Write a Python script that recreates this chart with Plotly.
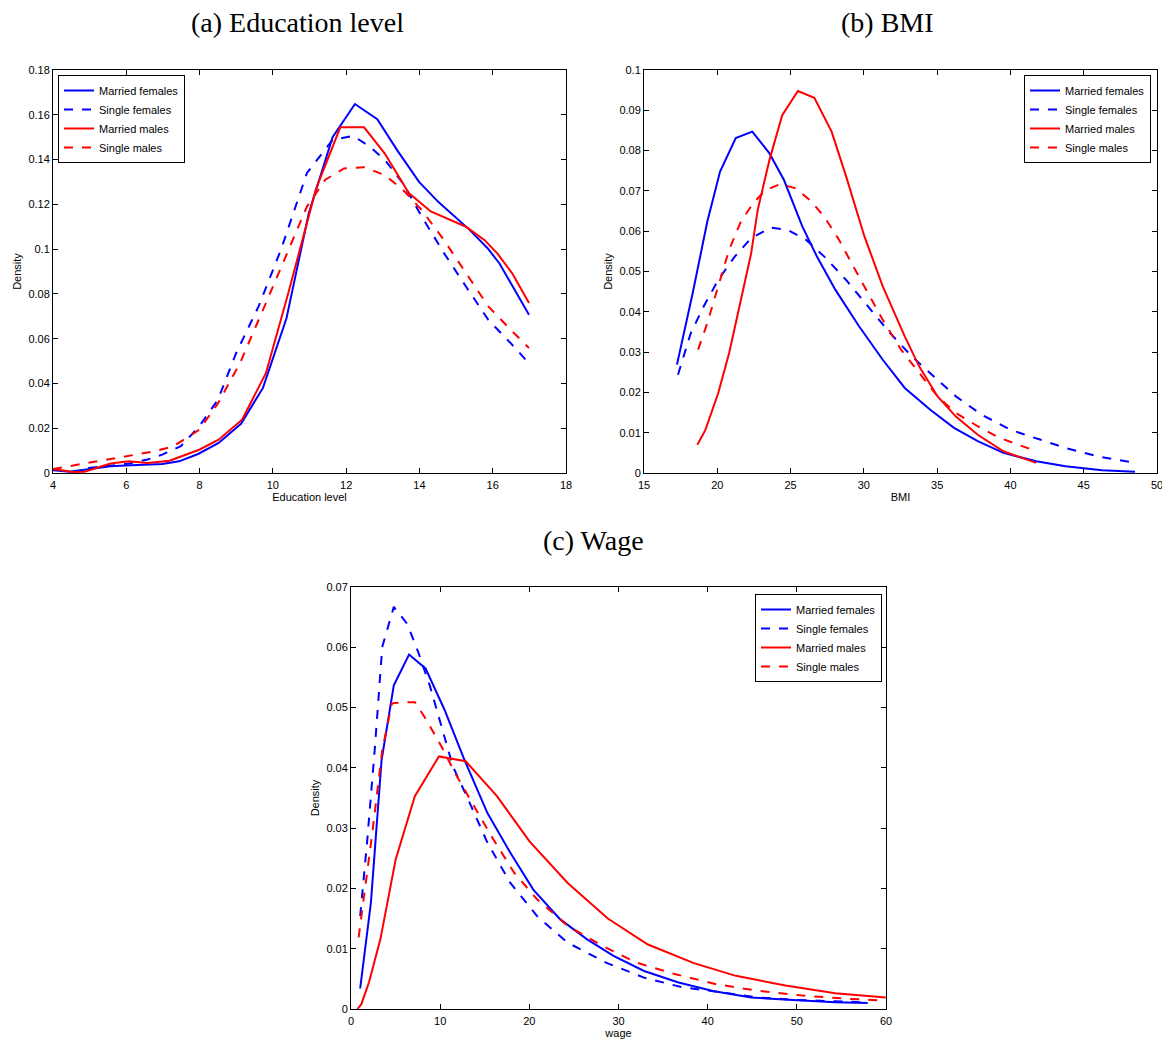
import plotly.graph_objects as go

# ---------------- data: (a) Education level ----------------
edu_mf_x = [4.0, 4.45, 5.01, 5.57, 5.97, 6.98, 7.44, 7.96, 8.52, 9.13, 9.73, 10.37, 10.98, 11.63, 12.24, 12.85, 13.4, 13.99, 14.52, 15.37, 15.86, 16.18, 16.99]
edu_mf_y = [0.0012, 0.0006, 0.0018, 0.003, 0.0034, 0.004, 0.0052, 0.0085, 0.0134, 0.022, 0.038, 0.069, 0.116, 0.150, 0.1648, 0.158, 0.144, 0.130, 0.121, 0.1086, 0.1004, 0.0937, 0.0707]
edu_sf_x = [4.96, 5.57, 6.07, 6.58, 6.98, 7.49, 7.99, 8.5, 9.0, 9.61, 10.22, 10.93, 11.63, 12.19, 12.64, 13.05, 13.55, 14.06, 14.67, 15.27, 15.88, 16.49, 16.99]
edu_sf_y = [0.0022, 0.0033, 0.0042, 0.006, 0.0082, 0.012, 0.0208, 0.0327, 0.0536, 0.0744, 0.0997, 0.134, 0.1488, 0.1506, 0.1458, 0.140, 0.1294, 0.1146, 0.0982, 0.0833, 0.0684, 0.058, 0.049]
edu_mm_x = [4.0, 4.55, 4.86, 5.57, 6.07, 6.58, 7.18, 7.99, 8.52, 9.16, 9.81, 10.42, 11.18, 11.84, 12.49, 13.05, 13.71, 14.31, 15.27, 15.78, 16.13, 16.54, 16.99]
edu_mm_y = [0.0018, 0.0005, 0.0006, 0.0042, 0.0052, 0.0045, 0.0055, 0.0104, 0.0149, 0.0238, 0.0446, 0.0803, 0.127, 0.1544, 0.1544, 0.1428, 0.125, 0.1168, 0.110, 0.104, 0.098, 0.089, 0.0759]
edu_sm_x = [4.0, 4.96, 5.57, 6.07, 6.78, 7.29, 7.99, 8.5, 9.1, 9.81, 10.42, 10.93, 11.43, 11.94, 12.49, 13.05, 13.55, 14.06, 14.67, 15.27, 15.88, 16.49, 16.99]
edu_sm_y = [0.0018, 0.0045, 0.006, 0.0074, 0.0097, 0.012, 0.0193, 0.031, 0.049, 0.0759, 0.0997, 0.119, 0.131, 0.136, 0.1366, 0.1331, 0.1265, 0.1175, 0.104, 0.0893, 0.0744, 0.064, 0.0558]

# ---------------- data: (b) BMI ----------------
bmi_mf_x = [17.25, 18.32, 19.32, 20.19, 21.26, 22.39, 23.56, 24.55, 25.8, 26.8, 28.05, 29.67, 31.29, 32.79, 34.53, 36.15, 37.77, 39.52, 41.76, 43.76, 46.25, 48.5]
bmi_mf_y = [0.0269, 0.0446, 0.0624, 0.0748, 0.0831, 0.0847, 0.0793, 0.0727, 0.0612, 0.0537, 0.0455, 0.0364, 0.0281, 0.0211, 0.0157, 0.0112, 0.0079, 0.005, 0.0029, 0.0017, 0.0007, 0.0003]
bmi_sf_x = [17.32, 18.19, 19.07, 20.06, 21.19, 22.31, 23.68, 24.8, 26.05, 27.3, 28.79, 30.29, 31.79, 33.28, 34.78, 36.28, 38.02, 40.02, 42.01, 43.76, 46.0, 48.5]
bmi_sf_y = [0.0244, 0.0347, 0.0413, 0.0479, 0.0537, 0.0583, 0.0609, 0.0603, 0.0579, 0.0537, 0.0479, 0.0413, 0.0347, 0.0289, 0.024, 0.019, 0.0145, 0.0107, 0.0083, 0.0062, 0.0041, 0.0025]
bmi_mm_x = [18.64, 19.19, 20.06, 20.81, 21.56, 22.31, 22.76, 23.56, 24.43, 25.5, 26.62, 27.8, 28.79, 30.04, 31.29, 32.79, 33.78, 35.03, 36.28, 37.77, 39.52, 41.76]
bmi_mm_y = [0.007, 0.0107, 0.0198, 0.0298, 0.0421, 0.0545, 0.0653, 0.0777, 0.0888, 0.0948, 0.0931, 0.0847, 0.0736, 0.0587, 0.0463, 0.0339, 0.0264, 0.019, 0.014, 0.0095, 0.0054, 0.0025]
bmi_sm_x = [18.69, 19.32, 20.06, 20.81, 21.56, 22.43, 23.31, 24.3, 25.3, 26.3, 27.3, 28.3, 29.29, 30.29, 31.29, 32.54, 33.78, 35.03, 36.28, 37.77, 39.27, 40.77, 41.76]
bmi_sm_y = [0.0306, 0.0372, 0.0463, 0.0554, 0.062, 0.0669, 0.0702, 0.0717, 0.0707, 0.0678, 0.0636, 0.0579, 0.0512, 0.0446, 0.038, 0.0306, 0.0248, 0.019, 0.0149, 0.0116, 0.0087, 0.0066, 0.0054]

# ---------------- data: (c) Wage ----------------
wage_mf_x = [1.03, 2.23, 3.43, 4.8, 6.51, 8.36, 10.5, 12.73, 15.3, 17.87, 20.44, 23.44, 26.44, 29.44, 32.87, 36.73, 40.59, 44.87, 49.59, 54.3, 57.95]
wage_mf_y = [0.0034, 0.0176, 0.0413, 0.0537, 0.0588, 0.0565, 0.0496, 0.0413, 0.0325, 0.0259, 0.0198, 0.0149, 0.0116, 0.0088, 0.0063, 0.0044, 0.003, 0.0019, 0.0015, 0.0011, 0.001]
wage_sf_x = [1.03, 1.8, 2.66, 3.51, 4.8, 6.3, 7.59, 8.87, 10.16, 11.44, 13.16, 15.3, 17.87, 20.87, 24.3, 28.59, 32.87, 37.16, 41.45, 45.73, 50.0, 54.3, 57.95]
wage_sf_y = [0.0154, 0.0276, 0.043, 0.0601, 0.0667, 0.0639, 0.059, 0.0535, 0.0468, 0.0402, 0.0347, 0.0276, 0.0209, 0.0154, 0.011, 0.0077, 0.0052, 0.0036, 0.0028, 0.0019, 0.0015, 0.0013, 0.0011]
wage_mm_x = [0.73, 1.16, 2.01, 3.3, 5.01, 7.16, 9.86, 12.86, 16.37, 20.02, 24.3, 28.8, 33.3, 38.45, 43.16, 48.73, 54.3, 60.0]
wage_mm_y = [0.0, 0.0008, 0.0044, 0.0116, 0.0248, 0.0353, 0.0419, 0.0411, 0.0353, 0.0278, 0.0209, 0.015, 0.0107, 0.0076, 0.0055, 0.0039, 0.0026, 0.0019]
wage_sm_x = [0.86, 1.59, 2.44, 3.51, 4.59, 5.87, 7.16, 8.44, 10.16, 11.87, 13.59, 15.73, 18.3, 20.87, 24.3, 28.16, 32.01, 36.3, 41.0, 45.73, 50.87, 55.59, 60.0]
wage_sm_y = [0.0119, 0.0198, 0.0298, 0.043, 0.0507, 0.0509, 0.0509, 0.048, 0.0435, 0.0386, 0.0342, 0.0287, 0.0226, 0.0182, 0.0138, 0.0105, 0.0077, 0.0058, 0.0041, 0.003, 0.0022, 0.0017, 0.0014]

series_names = ["Married females", "Single females", "Married males", "Single males"]

edu_xticks = [4, 6, 8, 10, 12, 14, 16, 18]
edu_yticks = [0, 0.02, 0.04, 0.06, 0.08, 0.1, 0.12, 0.14, 0.16, 0.18]
edu_yticktext = ["0", "0.02", "0.04", "0.06", "0.08", "0.1", "0.12", "0.14", "0.16", "0.18"]
bmi_xticks = [15, 20, 25, 30, 35, 40, 45, 50]
bmi_yticks = [0, 0.01, 0.02, 0.03, 0.04, 0.05, 0.06, 0.07, 0.08, 0.09, 0.1]
bmi_yticktext = ["0", "0.01", "0.02", "0.03", "0.04", "0.05", "0.06", "0.07", "0.08", "0.09", "0.1"]
wage_xticks = [0, 10, 20, 30, 40, 50, 60]
wage_yticks = [0, 0.01, 0.02, 0.03, 0.04, 0.05, 0.06, 0.07]
wage_yticktext = ["0", "0.01", "0.02", "0.03", "0.04", "0.05", "0.06", "0.07"]

panel_titles = ["(a) Education level", "(b) BMI", "(c) Wage"]
x_titles = ["Education level", "BMI", "wage"]

# ---------------- figure ----------------
W, H = 1162, 1039
BLUE = "#0000ff"
RED = "#ff0000"
styles = [(BLUE, "solid"), (BLUE, "dash"), (RED, "solid"), (RED, "dash")]

fig = go.Figure()

panels = [
    ("x", "y", "legend", [(edu_mf_x, edu_mf_y), (edu_sf_x, edu_sf_y), (edu_mm_x, edu_mm_y), (edu_sm_x, edu_sm_y)]),
    ("x2", "y2", "legend2", [(bmi_mf_x, bmi_mf_y), (bmi_sf_x, bmi_sf_y), (bmi_mm_x, bmi_mm_y), (bmi_sm_x, bmi_sm_y)]),
    ("x3", "y3", "legend3", [(wage_mf_x, wage_mf_y), (wage_sf_x, wage_sf_y), (wage_mm_x, wage_mm_y), (wage_sm_x, wage_sm_y)]),
]
for xa, ya, lg, data in panels:
    for (xs, ys), name, (col, dash) in zip(data, series_names, styles):
        fig.add_trace(go.Scatter(x=xs, y=ys, mode="lines", name=name,
                                 line=dict(color=col, width=2, dash=dash),
                                 xaxis=xa, yaxis=ya, legend=lg))

def px_x(p):
    return p / W

def px_y(p):
    return 1 - p / H

tickfont = dict(family="Liberation Sans, Arial, sans-serif", size=11, color="black")
titlefont = dict(family="Liberation Sans, Arial, sans-serif", size=11, color="black")

def axis_common():
    return dict(showgrid=False, zeroline=False, showline=True, linecolor="black", linewidth=1,
                mirror="ticks", ticks="inside", ticklen=5, tickcolor="black", tickwidth=1,
                tickfont=tickfont, title_font=titlefont, automargin=False,
                ticklabeloverflow="allow")

fig.update_layout(
    xaxis=dict(domain=[px_x(53), px_x(566)], range=[4, 18], tickvals=edu_xticks,
               title=dict(text=x_titles[0], standoff=3), anchor="y", ticklabelstandoff=2,
               **axis_common()),
    yaxis=dict(domain=[px_y(473), px_y(70)], range=[0, 0.18], tickvals=edu_yticks,
               ticktext=edu_yticktext, title=dict(text="Density", standoff=4), anchor="x",
               **axis_common()),
    xaxis2=dict(domain=[px_x(644), px_x(1157)], range=[15, 50], tickvals=bmi_xticks,
                title=dict(text=x_titles[1], standoff=3), anchor="y2", ticklabelstandoff=2,
                **axis_common()),
    yaxis2=dict(domain=[px_y(473), px_y(70)], range=[0, 0.1], tickvals=bmi_yticks,
                ticktext=bmi_yticktext, title=dict(text="Density", standoff=4), anchor="x2",
                **axis_common()),
    xaxis3=dict(domain=[px_x(351), px_x(886)], range=[0, 60], tickvals=wage_xticks,
                title=dict(text=x_titles[2], standoff=3), anchor="y3", ticklabelstandoff=2,
                **axis_common()),
    yaxis3=dict(domain=[px_y(1009), px_y(587)], range=[0, 0.07], tickvals=wage_yticks,
                ticktext=wage_yticktext, title=dict(text="Density", standoff=4), anchor="x3",
                **axis_common()),
)

legend_common = dict(bgcolor="white", bordercolor="black", borderwidth=1,
                     font=dict(family="Liberation Sans, Arial, sans-serif", size=11, color="black"),
                     tracegroupgap=0, itemwidth=30)
fig.update_layout(
    legend=dict(x=px_x(58), y=px_y(75), xanchor="left", yanchor="top", **legend_common),
    legend2=dict(x=px_x(1151), y=px_y(75), xanchor="right", yanchor="top", **legend_common),
    legend3=dict(x=px_x(882), y=px_y(594), xanchor="right", yanchor="top", **legend_common),
)

title_font = dict(family="Liberation Serif, DejaVu Serif, serif", size=28, color="black")
for txt, cx, cy in [(panel_titles[0], 297, 22), (panel_titles[1], 887, 22), (panel_titles[2], 593, 540)]:
    fig.add_annotation(text=txt, x=px_x(cx), y=px_y(cy), xref="paper", yref="paper",
                       xanchor="center", yanchor="middle", showarrow=False, font=title_font)

fig.update_layout(width=W, height=H, margin=dict(l=0, r=0, t=0, b=0, autoexpand=False),
                  paper_bgcolor="white", plot_bgcolor="white", showlegend=True)

fig.write_html("out.html", config={"displayModeBar": False},
               post_script="document.body.style.margin='0';document.body.style.padding='0';"
                           "document.body.style.overflow='hidden';"
                           "document.documentElement.style.overflow='hidden';")
